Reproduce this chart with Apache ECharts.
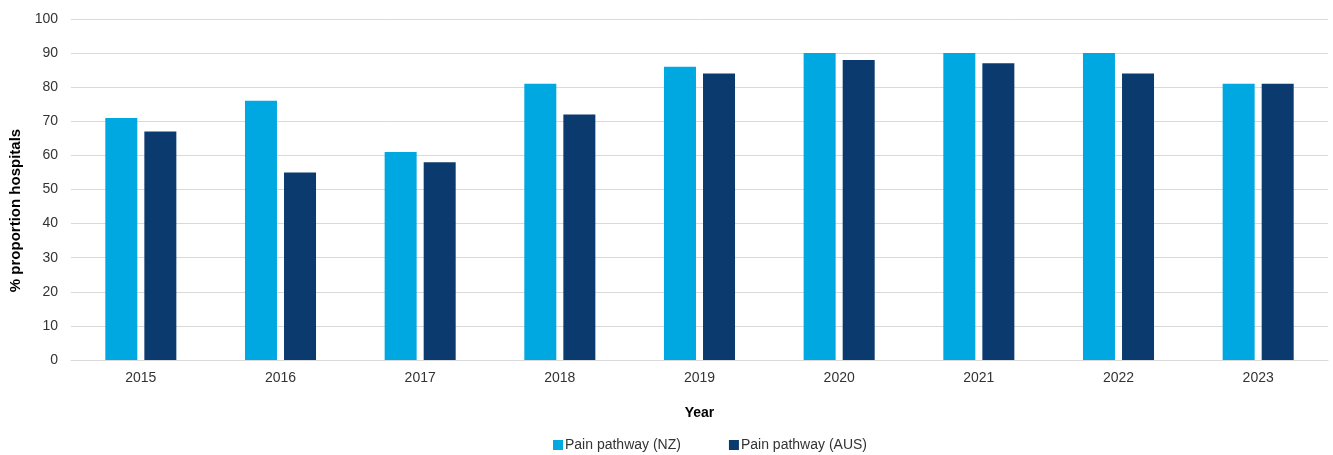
<!DOCTYPE html>
<html>
<head>
<meta charset="utf-8">
<script src="https://cdn.jsdelivr.net/npm/echarts@6/dist/echarts.min.js"></script>
<style>
  html, body { margin: 0; padding: 0; background: #fff; }
  #chart { width: 1333px; height: 455px; }
</style>
</head>
<body>
<div id="chart"></div>
<script>
// Proportion of hospitals with a pain pathway, by year
const years = ['2015', '2016', '2017', '2018', '2019', '2020', '2021', '2022', '2023'];
const nzValues = [71, 76, 61, 81, 86, 90, 90, 90, 81];
const ausValues = [67, 55, 58, 72, 84, 88, 87, 84, 81];
const seriesNames = ['Pain pathway (NZ)', 'Pain pathway (AUS)'];
const seriesColors = ['#00A8E1', '#0B3A6E'];

const font = 'Liberation Sans, Arial, sans-serif';
const chart = echarts.init(document.getElementById('chart'));

chart.setOption({
  animation: false,
  textStyle: { fontFamily: font },
  grid: { left: 71, right: 5, top: 19, bottom: 95, containLabel: false },
  legend: {
    bottom: -2,
    left: 548,
    itemWidth: 10,
    itemHeight: 10,
    itemGap: 48,
    icon: 'rect',
    textStyle: { fontFamily: font, fontSize: 14, color: '#333', padding: [0, 0, 0, -3] },
    data: seriesNames
  },
  xAxis: {
    type: 'category',
    data: years,
    name: 'Year',
    nameLocation: 'middle',
    nameGap: 46,
    nameTextStyle: { fontFamily: font, fontSize: 14, fontWeight: 'bold', color: '#000' },
    axisLine: { show: true, lineStyle: { color: '#d9d9d9', width: 1 } },
    axisTick: { show: false },
    axisLabel: { fontFamily: font, fontSize: 14, color: '#333', margin: 11 }
  },
  yAxis: {
    type: 'value',
    min: 0,
    max: 100,
    interval: 10,
    name: '% proportion hospitals',
    nameLocation: 'middle',
    nameGap: 47,
    nameRotate: 90,
    nameTextStyle: {
      fontFamily: font, fontSize: 15, fontWeight: 'bold', color: '#000',
      padding: [0, 42, 0, 0]
    },
    axisLine: { show: false },
    axisTick: { show: false },
    axisLabel: { fontFamily: font, fontSize: 14, color: '#333', margin: 13 },
    splitLine: { lineStyle: { color: '#d9d9d9', width: 1 } }
  },
  series: [
    {
      name: seriesNames[0],
      type: 'bar',
      data: nzValues,
      barWidth: 32,
      barGap: '22%',
      itemStyle: { color: seriesColors[0] }
    },
    {
      name: seriesNames[1],
      type: 'bar',
      data: ausValues,
      barWidth: 32,
      barGap: '22%',
      itemStyle: { color: seriesColors[1] }
    }
  ]
});
</script>
</body>
</html>
